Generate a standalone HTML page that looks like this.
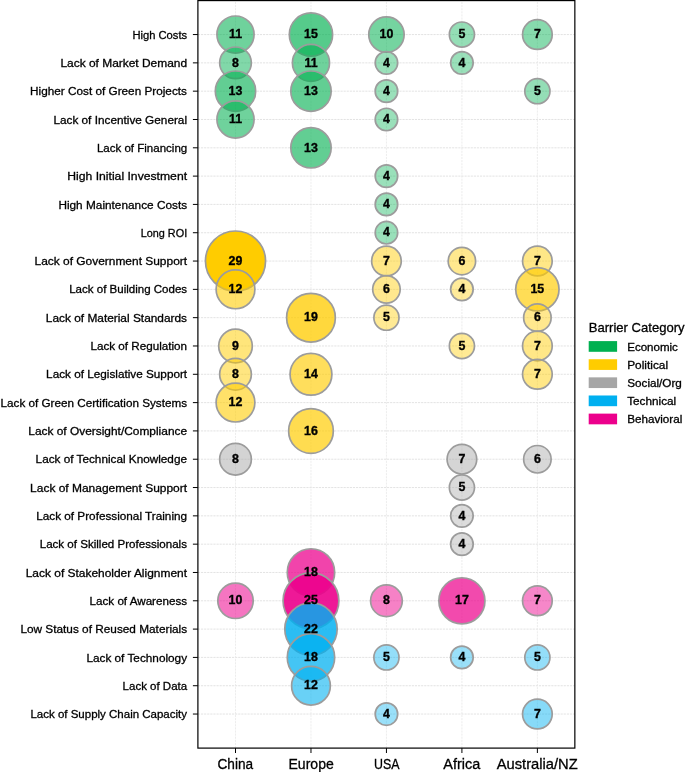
<!DOCTYPE html><html><head><meta charset="utf-8"><style>html,body{margin:0;padding:0;background:#fff;overflow:hidden}svg text{font-family:"Liberation Sans",sans-serif}</style></head><body><div style="will-change:transform;width:685px;height:772px"><svg width="685" height="772" viewBox="0 0 685 772" style="display:block">
<rect width="685" height="772" fill="#fff"/>
<path d="M197.9 34.55H574.85 M197.9 62.86H574.85 M197.9 91.17H574.85 M197.9 119.49H574.85 M197.9 147.8H574.85 M197.9 176.11H574.85 M197.9 204.42H574.85 M197.9 232.73H574.85 M197.9 261.05H574.85 M197.9 289.36H574.85 M197.9 317.67H574.85 M197.9 345.98H574.85 M197.9 374.29H574.85 M197.9 402.61H574.85 M197.9 430.92H574.85 M197.9 459.23H574.85 M197.9 487.54H574.85 M197.9 515.85H574.85 M197.9 544.17H574.85 M197.9 572.48H574.85 M197.9 600.79H574.85 M197.9 629.1H574.85 M197.9 657.41H574.85 M197.9 685.73H574.85 M197.9 714.04H574.85" stroke="#dcdcdc" stroke-width="0.8" stroke-dasharray="2.16 0.94" fill="none"/>
<path d="M235.5 748.1V0.58 M310.97 748.1V0.58 M386.44 748.1V0.58 M461.91 748.1V0.58 M537.38 748.1V0.58" stroke="#e8e8e8" stroke-width="0.8" stroke-dasharray="2.16 0.94" fill="none"/>
<circle cx="235.5" cy="34.55" r="18.57" fill="rgb(0, 176, 80)" fill-opacity="0.566" stroke="#9c9c9c" stroke-width="1.7"/>
<circle cx="310.97" cy="34.55" r="21.66" fill="rgb(0, 176, 80)" fill-opacity="0.662" stroke="#9c9c9c" stroke-width="1.7"/>
<circle cx="386.44" cy="34.55" r="17.71" fill="rgb(0, 176, 80)" fill-opacity="0.541" stroke="#9c9c9c" stroke-width="1.7"/>
<circle cx="461.91" cy="34.55" r="12.57" fill="rgb(0, 176, 80)" fill-opacity="0.421" stroke="#9c9c9c" stroke-width="1.7"/>
<circle cx="537.38" cy="34.55" r="14.84" fill="rgb(0, 176, 80)" fill-opacity="0.469" stroke="#9c9c9c" stroke-width="1.7"/>
<circle cx="235.5" cy="62.86" r="15.86" fill="rgb(0, 176, 80)" fill-opacity="0.493" stroke="#9c9c9c" stroke-width="1.7"/>
<circle cx="310.97" cy="62.86" r="18.57" fill="rgb(0, 176, 80)" fill-opacity="0.566" stroke="#9c9c9c" stroke-width="1.7"/>
<circle cx="386.44" cy="62.86" r="11.26" fill="rgb(0, 176, 80)" fill-opacity="0.397" stroke="#9c9c9c" stroke-width="1.7"/>
<circle cx="461.91" cy="62.86" r="11.26" fill="rgb(0, 176, 80)" fill-opacity="0.397" stroke="#9c9c9c" stroke-width="1.7"/>
<circle cx="235.5" cy="91.17" r="20.18" fill="rgb(0, 176, 80)" fill-opacity="0.614" stroke="#9c9c9c" stroke-width="1.7"/>
<circle cx="310.97" cy="91.17" r="20.18" fill="rgb(0, 176, 80)" fill-opacity="0.614" stroke="#9c9c9c" stroke-width="1.7"/>
<circle cx="386.44" cy="91.17" r="11.26" fill="rgb(0, 176, 80)" fill-opacity="0.397" stroke="#9c9c9c" stroke-width="1.7"/>
<circle cx="537.38" cy="91.17" r="12.57" fill="rgb(0, 176, 80)" fill-opacity="0.421" stroke="#9c9c9c" stroke-width="1.7"/>
<circle cx="235.5" cy="119.49" r="18.57" fill="rgb(0, 176, 80)" fill-opacity="0.566" stroke="#9c9c9c" stroke-width="1.7"/>
<circle cx="386.44" cy="119.49" r="11.26" fill="rgb(0, 176, 80)" fill-opacity="0.397" stroke="#9c9c9c" stroke-width="1.7"/>
<circle cx="310.97" cy="147.8" r="20.18" fill="rgb(0, 176, 80)" fill-opacity="0.614" stroke="#9c9c9c" stroke-width="1.7"/>
<circle cx="386.44" cy="176.11" r="11.26" fill="rgb(0, 176, 80)" fill-opacity="0.397" stroke="#9c9c9c" stroke-width="1.7"/>
<circle cx="386.44" cy="204.42" r="11.26" fill="rgb(0, 176, 80)" fill-opacity="0.397" stroke="#9c9c9c" stroke-width="1.7"/>
<circle cx="386.44" cy="232.73" r="11.26" fill="rgb(0, 176, 80)" fill-opacity="0.397" stroke="#9c9c9c" stroke-width="1.7"/>
<circle cx="235.5" cy="261.05" r="30.06" fill="rgb(255, 204, 0)" fill-opacity="1.000" stroke="#9c9c9c" stroke-width="1.7"/>
<circle cx="386.44" cy="261.05" r="14.84" fill="rgb(255, 204, 0)" fill-opacity="0.469" stroke="#9c9c9c" stroke-width="1.7"/>
<circle cx="461.91" cy="261.05" r="13.75" fill="rgb(255, 204, 0)" fill-opacity="0.445" stroke="#9c9c9c" stroke-width="1.7"/>
<circle cx="537.38" cy="261.05" r="14.84" fill="rgb(255, 204, 0)" fill-opacity="0.469" stroke="#9c9c9c" stroke-width="1.7"/>
<circle cx="235.5" cy="289.36" r="19.39" fill="rgb(255, 204, 0)" fill-opacity="0.590" stroke="#9c9c9c" stroke-width="1.7"/>
<circle cx="386.44" cy="289.36" r="13.75" fill="rgb(255, 204, 0)" fill-opacity="0.445" stroke="#9c9c9c" stroke-width="1.7"/>
<circle cx="461.91" cy="289.36" r="11.26" fill="rgb(255, 204, 0)" fill-opacity="0.397" stroke="#9c9c9c" stroke-width="1.7"/>
<circle cx="537.38" cy="289.36" r="21.66" fill="rgb(255, 204, 0)" fill-opacity="0.662" stroke="#9c9c9c" stroke-width="1.7"/>
<circle cx="310.97" cy="317.67" r="24.36" fill="rgb(255, 204, 0)" fill-opacity="0.759" stroke="#9c9c9c" stroke-width="1.7"/>
<circle cx="386.44" cy="317.67" r="12.57" fill="rgb(255, 204, 0)" fill-opacity="0.421" stroke="#9c9c9c" stroke-width="1.7"/>
<circle cx="537.38" cy="317.67" r="13.75" fill="rgb(255, 204, 0)" fill-opacity="0.445" stroke="#9c9c9c" stroke-width="1.7"/>
<circle cx="235.5" cy="345.98" r="16.81" fill="rgb(255, 204, 0)" fill-opacity="0.517" stroke="#9c9c9c" stroke-width="1.7"/>
<circle cx="461.91" cy="345.98" r="12.57" fill="rgb(255, 204, 0)" fill-opacity="0.421" stroke="#9c9c9c" stroke-width="1.7"/>
<circle cx="537.38" cy="345.98" r="14.84" fill="rgb(255, 204, 0)" fill-opacity="0.469" stroke="#9c9c9c" stroke-width="1.7"/>
<circle cx="235.5" cy="374.29" r="15.86" fill="rgb(255, 204, 0)" fill-opacity="0.493" stroke="#9c9c9c" stroke-width="1.7"/>
<circle cx="310.97" cy="374.29" r="20.93" fill="rgb(255, 204, 0)" fill-opacity="0.638" stroke="#9c9c9c" stroke-width="1.7"/>
<circle cx="537.38" cy="374.29" r="14.84" fill="rgb(255, 204, 0)" fill-opacity="0.469" stroke="#9c9c9c" stroke-width="1.7"/>
<circle cx="235.5" cy="402.61" r="19.39" fill="rgb(255, 204, 0)" fill-opacity="0.590" stroke="#9c9c9c" stroke-width="1.7"/>
<circle cx="310.97" cy="430.92" r="22.37" fill="rgb(255, 204, 0)" fill-opacity="0.686" stroke="#9c9c9c" stroke-width="1.7"/>
<circle cx="235.5" cy="459.23" r="15.86" fill="rgb(166, 166, 166)" fill-opacity="0.493" stroke="#9c9c9c" stroke-width="1.7"/>
<circle cx="461.91" cy="459.23" r="14.84" fill="rgb(166, 166, 166)" fill-opacity="0.469" stroke="#9c9c9c" stroke-width="1.7"/>
<circle cx="537.38" cy="459.23" r="13.75" fill="rgb(166, 166, 166)" fill-opacity="0.445" stroke="#9c9c9c" stroke-width="1.7"/>
<circle cx="461.91" cy="487.54" r="12.57" fill="rgb(166, 166, 166)" fill-opacity="0.421" stroke="#9c9c9c" stroke-width="1.7"/>
<circle cx="461.91" cy="515.85" r="11.26" fill="rgb(166, 166, 166)" fill-opacity="0.397" stroke="#9c9c9c" stroke-width="1.7"/>
<circle cx="461.91" cy="544.17" r="11.26" fill="rgb(166, 166, 166)" fill-opacity="0.397" stroke="#9c9c9c" stroke-width="1.7"/>
<circle cx="310.97" cy="572.48" r="23.71" fill="rgb(236, 0, 140)" fill-opacity="0.734" stroke="#9c9c9c" stroke-width="1.7"/>
<circle cx="235.5" cy="600.79" r="17.71" fill="rgb(236, 0, 140)" fill-opacity="0.541" stroke="#9c9c9c" stroke-width="1.7"/>
<circle cx="310.97" cy="600.79" r="27.92" fill="rgb(236, 0, 140)" fill-opacity="0.903" stroke="#9c9c9c" stroke-width="1.7"/>
<circle cx="386.44" cy="600.79" r="15.86" fill="rgb(236, 0, 140)" fill-opacity="0.493" stroke="#9c9c9c" stroke-width="1.7"/>
<circle cx="461.91" cy="600.79" r="23.05" fill="rgb(236, 0, 140)" fill-opacity="0.710" stroke="#9c9c9c" stroke-width="1.7"/>
<circle cx="537.38" cy="600.79" r="14.84" fill="rgb(236, 0, 140)" fill-opacity="0.469" stroke="#9c9c9c" stroke-width="1.7"/>
<circle cx="310.97" cy="629.1" r="26.2" fill="rgb(0, 176, 240)" fill-opacity="0.831" stroke="#9c9c9c" stroke-width="1.7"/>
<circle cx="310.97" cy="657.41" r="23.71" fill="rgb(0, 176, 240)" fill-opacity="0.734" stroke="#9c9c9c" stroke-width="1.7"/>
<circle cx="386.44" cy="657.41" r="12.57" fill="rgb(0, 176, 240)" fill-opacity="0.421" stroke="#9c9c9c" stroke-width="1.7"/>
<circle cx="461.91" cy="657.41" r="11.26" fill="rgb(0, 176, 240)" fill-opacity="0.397" stroke="#9c9c9c" stroke-width="1.7"/>
<circle cx="537.38" cy="657.41" r="12.57" fill="rgb(0, 176, 240)" fill-opacity="0.421" stroke="#9c9c9c" stroke-width="1.7"/>
<circle cx="310.97" cy="685.73" r="19.39" fill="rgb(0, 176, 240)" fill-opacity="0.590" stroke="#9c9c9c" stroke-width="1.7"/>
<circle cx="386.44" cy="714.04" r="11.26" fill="rgb(0, 176, 240)" fill-opacity="0.397" stroke="#9c9c9c" stroke-width="1.7"/>
<circle cx="537.38" cy="714.04" r="14.84" fill="rgb(0, 176, 240)" fill-opacity="0.469" stroke="#9c9c9c" stroke-width="1.7"/>
<g font-family="Liberation Sans" font-weight="bold" font-size="11.9" text-anchor="middle" fill="#000" stroke="#000" stroke-width="0.35">
<text transform="translate(235.5,38.25) scale(1.04,1)">11</text>
<text transform="translate(310.97,38.25) scale(1.04,1)">15</text>
<text transform="translate(386.44,38.25) scale(1.04,1)">10</text>
<text transform="translate(461.91,38.25) scale(1.04,1)">5</text>
<text transform="translate(537.38,38.25) scale(1.04,1)">7</text>
<text transform="translate(235.5,66.56) scale(1.04,1)">8</text>
<text transform="translate(310.97,66.56) scale(1.04,1)">11</text>
<text transform="translate(386.44,66.56) scale(1.04,1)">4</text>
<text transform="translate(461.91,66.56) scale(1.04,1)">4</text>
<text transform="translate(235.5,94.87) scale(1.04,1)">13</text>
<text transform="translate(310.97,94.87) scale(1.04,1)">13</text>
<text transform="translate(386.44,94.87) scale(1.04,1)">4</text>
<text transform="translate(537.38,94.87) scale(1.04,1)">5</text>
<text transform="translate(235.5,123.19) scale(1.04,1)">11</text>
<text transform="translate(386.44,123.19) scale(1.04,1)">4</text>
<text transform="translate(310.97,151.5) scale(1.04,1)">13</text>
<text transform="translate(386.44,179.81) scale(1.04,1)">4</text>
<text transform="translate(386.44,208.12) scale(1.04,1)">4</text>
<text transform="translate(386.44,236.43) scale(1.04,1)">4</text>
<text transform="translate(235.5,264.75) scale(1.04,1)">29</text>
<text transform="translate(386.44,264.75) scale(1.04,1)">7</text>
<text transform="translate(461.91,264.75) scale(1.04,1)">6</text>
<text transform="translate(537.38,264.75) scale(1.04,1)">7</text>
<text transform="translate(235.5,293.06) scale(1.04,1)">12</text>
<text transform="translate(386.44,293.06) scale(1.04,1)">6</text>
<text transform="translate(461.91,293.06) scale(1.04,1)">4</text>
<text transform="translate(537.38,293.06) scale(1.04,1)">15</text>
<text transform="translate(310.97,321.37) scale(1.04,1)">19</text>
<text transform="translate(386.44,321.37) scale(1.04,1)">5</text>
<text transform="translate(537.38,321.37) scale(1.04,1)">6</text>
<text transform="translate(235.5,349.68) scale(1.04,1)">9</text>
<text transform="translate(461.91,349.68) scale(1.04,1)">5</text>
<text transform="translate(537.38,349.68) scale(1.04,1)">7</text>
<text transform="translate(235.5,377.99) scale(1.04,1)">8</text>
<text transform="translate(310.97,377.99) scale(1.04,1)">14</text>
<text transform="translate(537.38,377.99) scale(1.04,1)">7</text>
<text transform="translate(235.5,406.31) scale(1.04,1)">12</text>
<text transform="translate(310.97,434.62) scale(1.04,1)">16</text>
<text transform="translate(235.5,462.93) scale(1.04,1)">8</text>
<text transform="translate(461.91,462.93) scale(1.04,1)">7</text>
<text transform="translate(537.38,462.93) scale(1.04,1)">6</text>
<text transform="translate(461.91,491.24) scale(1.04,1)">5</text>
<text transform="translate(461.91,519.55) scale(1.04,1)">4</text>
<text transform="translate(461.91,547.87) scale(1.04,1)">4</text>
<text transform="translate(310.97,576.18) scale(1.04,1)">18</text>
<text transform="translate(235.5,604.49) scale(1.04,1)">10</text>
<text transform="translate(310.97,604.49) scale(1.04,1)">25</text>
<text transform="translate(386.44,604.49) scale(1.04,1)">8</text>
<text transform="translate(461.91,604.49) scale(1.04,1)">17</text>
<text transform="translate(537.38,604.49) scale(1.04,1)">7</text>
<text transform="translate(310.97,632.8) scale(1.04,1)">22</text>
<text transform="translate(310.97,661.11) scale(1.04,1)">18</text>
<text transform="translate(386.44,661.11) scale(1.04,1)">5</text>
<text transform="translate(461.91,661.11) scale(1.04,1)">4</text>
<text transform="translate(537.38,661.11) scale(1.04,1)">5</text>
<text transform="translate(310.97,689.43) scale(1.04,1)">12</text>
<text transform="translate(386.44,717.74) scale(1.04,1)">4</text>
<text transform="translate(537.38,717.74) scale(1.04,1)">7</text>
</g>
<rect x="197.9" y="0.58" width="376.95" height="747.52" fill="none" stroke="#000" stroke-width="1.2"/>
<path d="M192.9 34.55H197.9 M192.9 62.86H197.9 M192.9 91.17H197.9 M192.9 119.49H197.9 M192.9 147.8H197.9 M192.9 176.11H197.9 M192.9 204.42H197.9 M192.9 232.73H197.9 M192.9 261.05H197.9 M192.9 289.36H197.9 M192.9 317.67H197.9 M192.9 345.98H197.9 M192.9 374.29H197.9 M192.9 402.61H197.9 M192.9 430.92H197.9 M192.9 459.23H197.9 M192.9 487.54H197.9 M192.9 515.85H197.9 M192.9 544.17H197.9 M192.9 572.48H197.9 M192.9 600.79H197.9 M192.9 629.1H197.9 M192.9 657.41H197.9 M192.9 685.73H197.9 M192.9 714.04H197.9 M235.5 748.1V753 M310.97 748.1V753 M386.44 748.1V753 M461.91 748.1V753 M537.38 748.1V753" stroke="#000" stroke-width="1.0" fill="none"/>
<g font-family="Liberation Sans" fill="#000" stroke="#000" stroke-width="0.3">
<text x="0" y="0" transform="translate(132.4,38.65) scale(0.9576,1)" font-size="11.7">High Costs</text>
<text x="0" y="0" transform="translate(60.4,66.96) scale(1.0209,1)" font-size="11.7">Lack of Market Demand</text>
<text x="0" y="0" transform="translate(30.1,95.27) scale(1.0066,1)" font-size="11.7">Higher Cost of Green Projects</text>
<text x="0" y="0" transform="translate(53.4,123.59) scale(1.0085,1)" font-size="11.7">Lack of Incentive General</text>
<text x="0" y="0" transform="translate(96.9,151.9) scale(0.9847,1)" font-size="11.7">Lack of Financing</text>
<text x="0" y="0" transform="translate(67.2,180.21) scale(1.0425,1)" font-size="11.7">High Initial Investment</text>
<text x="0" y="0" transform="translate(58.4,208.52) scale(1.0104,1)" font-size="11.7">High Maintenance Costs</text>
<text x="0" y="0" transform="translate(140.7,236.83) scale(0.9286,1)" font-size="11.7">Long ROI</text>
<text x="0" y="0" transform="translate(34.5,265.15) scale(1.0208,1)" font-size="11.7">Lack of Government Support</text>
<text x="0" y="0" transform="translate(69.2,293.46) scale(0.9860,1)" font-size="11.7">Lack of Building Codes</text>
<text x="0" y="0" transform="translate(45.8,321.77) scale(1.0160,1)" font-size="11.7">Lack of Material Standards</text>
<text x="0" y="0" transform="translate(90.5,350.08) scale(0.9978,1)" font-size="11.7">Lack of Regulation</text>
<text x="0" y="0" transform="translate(46.1,378.39) scale(1.0044,1)" font-size="11.7">Lack of Legislative Support</text>
<text x="0" y="0" transform="translate(0.6,406.71) scale(0.9999,1)" font-size="11.7">Lack of Green Certification Systems</text>
<text x="0" y="0" transform="translate(28.3,435.02) scale(1.0182,1)" font-size="11.7">Lack of Oversight/Compliance</text>
<text x="0" y="0" transform="translate(35.6,463.33) scale(1.0061,1)" font-size="11.7">Lack of Technical Knowledge</text>
<text x="0" y="0" transform="translate(30.1,491.64) scale(1.0235,1)" font-size="11.7">Lack of Management Support</text>
<text x="0" y="0" transform="translate(36.2,519.95) scale(1.0051,1)" font-size="11.7">Lack of Professional Training</text>
<text x="0" y="0" transform="translate(39.7,548.27) scale(0.9904,1)" font-size="11.7">Lack of Skilled Professionals</text>
<text x="0" y="0" transform="translate(25.7,576.58) scale(1.0219,1)" font-size="11.7">Lack of Stakeholder Alignment</text>
<text x="0" y="0" transform="translate(89.6,604.89) scale(0.9959,1)" font-size="11.7">Lack of Awareness</text>
<text x="0" y="0" transform="translate(20.4,633.2) scale(1.0098,1)" font-size="11.7">Low Status of Reused Materials</text>
<text x="0" y="0" transform="translate(86.4,661.51) scale(1.0085,1)" font-size="11.7">Lack of Technology</text>
<text x="0" y="0" transform="translate(122.6,689.83) scale(0.9833,1)" font-size="11.7">Lack of Data</text>
<text x="0" y="0" transform="translate(30.4,718.14) scale(0.9840,1)" font-size="11.7">Lack of Supply Chain Capacity</text>
<text x="0" y="0" transform="translate(217.5,768.8) scale(0.9105,1)" font-size="15.0">China</text>
<text x="0" y="0" transform="translate(288.5,768.8) scale(0.9364,1)" font-size="15.0">Europe</text>
<text x="0" y="0" transform="translate(374,768.8) scale(0.8268,1)" font-size="15.0">USA</text>
<text x="0" y="0" transform="translate(443.3,768.8) scale(0.9647,1)" font-size="15.0">Africa</text>
<text x="0" y="0" transform="translate(496.7,768.8) scale(0.9827,1)" font-size="15.0">Australia/NZ</text>

</g>
<text font-family="Liberation Sans" stroke="#000" stroke-width="0.3" transform="translate(588.8,332.45) scale(0.9748,1)" font-size="13.4">Barrier Category</text>
<rect x="588.7" y="341.1" width="28.4" height="10.7" fill="#00B050"/>
<g font-family="Liberation Sans" stroke="#000" stroke-width="0.3"><text x="0" y="0" transform="translate(627.2,350.6) scale(1.0517,1)" font-size="11.0">Economic</text></g>
<rect x="588.7" y="359.23" width="28.4" height="10.7" fill="#FFCC00"/>
<g font-family="Liberation Sans" stroke="#000" stroke-width="0.3"><text x="0" y="0" transform="translate(627.2,368.73) scale(1.0790,1)" font-size="11.0">Political</text></g>
<rect x="588.7" y="377.36" width="28.4" height="10.7" fill="#A6A6A6"/>
<g font-family="Liberation Sans" stroke="#000" stroke-width="0.3"><text x="0" y="0" transform="translate(627.2,386.86) scale(1.0653,1)" font-size="11.0">Social/Org</text></g>
<rect x="588.7" y="395.49" width="28.4" height="10.7" fill="#00B0F0"/>
<g font-family="Liberation Sans" stroke="#000" stroke-width="0.3"><text x="0" y="0" transform="translate(627.2,404.99) scale(1.0707,1)" font-size="11.0">Technical</text></g>
<rect x="588.7" y="413.62" width="28.4" height="10.7" fill="#EC008C"/>
<g font-family="Liberation Sans" stroke="#000" stroke-width="0.3"><text x="0" y="0" transform="translate(627.2,423.12) scale(1.0620,1)" font-size="11.0">Behavioral</text></g>
</svg></div></body></html>
